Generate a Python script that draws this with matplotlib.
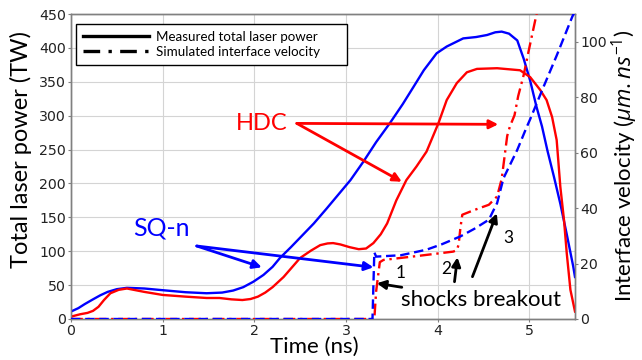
import matplotlib
matplotlib.use("Agg")
import matplotlib.pyplot as plt
from matplotlib.lines import Line2D

# ---------------- data ----------------
# SQ-n measured laser power (TW)
sq_t = [0, 0.08, 0.15, 0.24, 0.32, 0.4, 0.5, 0.61, 0.8, 1.0, 1.25, 1.48, 1.65, 1.77,
        1.88, 1.99, 2.1, 2.2, 2.28, 2.4, 2.5, 2.65, 2.79, 2.92, 3.05, 3.19, 3.33, 3.48,
        3.62, 3.74, 3.85, 3.99, 4.1, 4.28, 4.42, 4.54, 4.63, 4.7, 4.78, 4.87, 4.94,
        5.01, 5.08, 5.14, 5.2, 5.27, 5.34, 5.41, 5.48, 5.5]
sq_p = [11, 16, 22, 29, 35, 40, 44, 46, 45, 42.5, 39.5, 38, 39, 42,
        47, 55, 65, 77, 90, 106, 120, 141, 163, 184, 205, 232, 261, 289,
        317, 343, 367, 392, 402, 414, 416, 419, 423, 424, 421, 411, 384,
        352, 313, 284, 248, 210, 170, 125, 78, 62]

# HDC measured laser power (TW)
hdc_t = [0, 0.1, 0.18, 0.24, 0.3, 0.36, 0.43, 0.52, 0.61, 0.8, 1.0, 1.25, 1.48, 1.62,
         1.75, 1.87, 1.96, 2.04, 2.12, 2.2, 2.32, 2.5, 2.62, 2.72, 2.8, 2.86, 2.94,
         3.04, 3.14, 3.22, 3.3, 3.38, 3.45, 3.55, 3.66, 3.77, 3.88, 4.01, 4.1, 4.21,
         4.32, 4.43, 4.65, 4.9, 5.01, 5.12, 5.19, 5.25, 5.3, 5.34, 5.38, 5.41, 5.45, 5.5]
hdc_p = [3.5, 7, 9, 12, 18, 28, 38, 43, 45, 40, 35.5, 33, 31, 31,
         29, 28, 29.5, 33, 39, 47, 62, 90, 101, 109, 111.5, 112, 110,
         106, 103, 104, 112, 125, 141, 175, 205, 225, 247, 289, 323, 348,
         364, 369, 370, 367, 357, 338, 323, 298, 264, 195, 146, 97, 43, 11]

# SQ-n simulated interface velocity (um/ns)
sqv_t = [0, 3.29, 3.30, 3.31, 3.33, 3.6, 3.88, 4.05, 4.25, 4.4, 4.56, 4.6, 4.65, 4.72,
         4.87, 4.97, 5.01, 5.16, 5.3, 5.47, 5.5]
sqv_v = [0, 0, 12, 24, 22.5, 23, 25, 27, 29.8, 32.5, 35.8, 38.5, 41.8, 50.8,
         61, 69, 72, 84, 95, 109, 111]

# HDC simulated interface velocity (um/ns)
hdcv_t = [0, 3.31, 3.33, 3.37, 3.41, 3.8, 4.17, 4.21, 4.23, 4.25, 4.27, 4.4, 4.56,
          4.65, 4.7, 4.76, 4.79, 4.84, 4.88, 4.94, 4.99, 5.1]
hdcv_v = [0, 0, 10, 20.5, 21.3, 22.8, 24.3, 24.8, 26.8, 33, 37.6, 39.3, 41.2,
          44.2, 50.5, 66, 69.5, 73.5, 80.4, 88, 96, 113]

power_ticks = [0, 50, 100, 150, 200, 250, 300, 350, 400, 450]
vel_ticks = [0, 20, 40, 60, 80, 100]
time_ticks = [0, 1, 2, 3, 4, 5]

legend_labels = ["Measured total laser power", "Simulated interface velocity"]

# ---------------- style ----------------
BLUE = "#0000ff"
RED = "#ff0000"
SPINE = "#808080"
LABEL_FONT = ["Lato", "DejaVu Sans"]

plt.rcParams["font.family"] = ["DejaVu Sans"]
plt.rcParams["mathtext.fontset"] = "custom"
plt.rcParams["mathtext.it"] = "Open Sans:italic"
plt.rcParams["mathtext.rm"] = "Open Sans"

fig = plt.figure(figsize=(6.42, 3.6), dpi=100)
ax = fig.add_axes([71 / 642, 41 / 360, 504 / 642, 305 / 360])
ax2 = ax.twinx()

ax.set_xlim(0, 5.5)
ax.set_ylim(0, 450)
ax2.set_ylim(0, 110)
ax.set_xticks(time_ticks)
ax.set_yticks(power_ticks)
ax2.set_yticks(vel_ticks)

ax.grid(True, color="#d4d4d4", linewidth=0.8)
ax.set_axisbelow(True)

for a in (ax, ax2):
    for s in a.spines.values():
        s.set_color(SPINE)
        s.set_linewidth(1.0)
    a.tick_params(labelsize=10.2, length=2.5, width=0.8, color=SPINE, pad=1.2,
                  labelcolor="#222222")

lw = 1.7
ax.plot(sq_t, sq_p, color=BLUE, lw=lw, zorder=3)
ax.plot(hdc_t, hdc_p, color=RED, lw=lw, zorder=3)
ax2.plot(hdcv_t, hdcv_v, color=RED, lw=lw, dashes=(5, 2, 1, 2), zorder=3)
ax2.plot(sqv_t, sqv_v, color=BLUE, lw=lw, dashes=(4, 2), zorder=4)

ax.set_xlabel("Time (ns)", fontsize=16, family=LABEL_FONT)
ax.set_ylabel("Total laser power (TW)", fontsize=17, family=LABEL_FONT)
ax2.set_ylabel(r"Interface velocity ($\mu m.ns^{-1}$)", fontsize=16, family=LABEL_FONT)
ax.xaxis.set_label_coords((314 - 71) / 504, -(353 - 319) / 305)
ax.xaxis.label.set_va("baseline")
ax.yaxis.set_label_coords(-(71 - 21) / 504, (319 - 150) / 305)
ax.yaxis.label.set_va("center")
ax2.yaxis.set_label_coords((625 - 71) / 504, (319 - 166) / 305)
ax2.yaxis.label.set_va("center")

# legend
handles = [Line2D([], [], color="black", lw=2.4),
           Line2D([], [], color="black", lw=2.4, dashes=(5, 2.5, 1, 2.5))]
leg = ax.legend(handles, legend_labels, loc="upper left",
                bbox_to_anchor=((76 - 71) / 504, (319 - 66) / 305,
                                (347 - 76) / 504, (66 - 24) / 305),
                mode="expand",
                borderaxespad=0, fancybox=False, framealpha=1,
                edgecolor="black", handlelength=5.0, handletextpad=0.5,
                labelspacing=0.25, borderpad=0.5,
                prop={"family": LABEL_FONT, "size": 9.6})
leg.get_frame().set_linewidth(1.0)
leg.set_zorder(10)

# annotations
arrow_kw = dict(arrowstyle="-|>", lw=2.0, mutation_scale=13, shrinkA=0, shrinkB=0)

ax.text(2.082, 288.6, "HDC", color=RED, fontsize=17, family=LABEL_FONT,
        ha="center", va="center", zorder=6)
ax.annotate("", xy=(4.662, 287.2), xytext=(2.464, 288.6),
            arrowprops=dict(color=RED, **arrow_kw), zorder=6)
ax.annotate("", xy=(3.610, 202.5), xytext=(2.464, 288.6),
            arrowprops=dict(color=RED, **arrow_kw), zorder=6)

ax.text(0.990, 133.8, "SQ-n", color=BLUE, fontsize=18, family=LABEL_FONT,
        ha="center", va="center", zorder=6)
ax.annotate("", xy=(2.082, 76.3), xytext=(1.372, 107.7),
            arrowprops=dict(color=BLUE, **arrow_kw), zorder=6)
ax.annotate("", xy=(3.300, 76.3), xytext=(1.372, 107.7),
            arrowprops=dict(color=BLUE, **arrow_kw), zorder=6)

ax.text(3.592, 67.4, "1", fontsize=12.5, family=LABEL_FONT, ha="center", va="center")
ax.text(4.094, 73.3, "2", fontsize=12.5, family=LABEL_FONT, ha="center", va="center")
ax.text(4.774, 119, "3", fontsize=12.5, family=LABEL_FONT, ha="center", va="center")
ax.text(4.476, 28, "shocks breakout", fontsize=16, family=LABEL_FONT,
        ha="center", va="center", zorder=6)
ax.annotate("", xy=(3.337, 52.7), xytext=(3.610, 46.8),
            arrowprops=dict(color="black", **arrow_kw), zorder=6)
ax.annotate("", xy=(4.217, 91), xytext=(4.185, 55),
            arrowprops=dict(color="black", **arrow_kw), zorder=6)
ax.annotate("", xy=(4.647, 155.9), xytext=(4.381, 62.4),
            arrowprops=dict(color="black", **arrow_kw), zorder=6)

fig.savefig("out.png", dpi=100)
